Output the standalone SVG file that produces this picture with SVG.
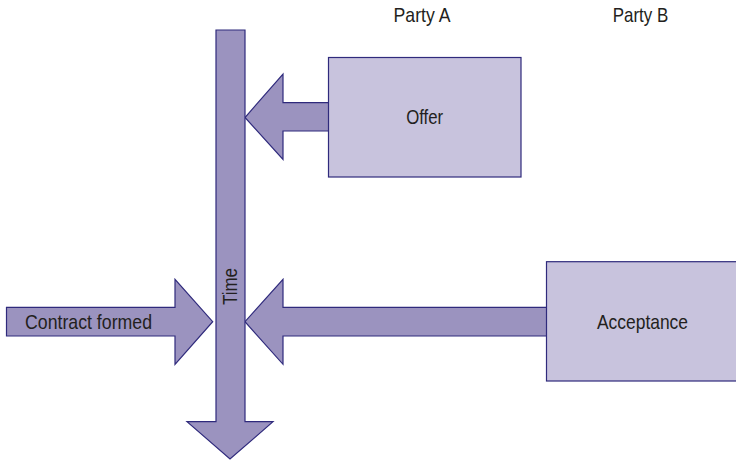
<svg xmlns="http://www.w3.org/2000/svg" width="736" height="461" viewBox="0 0 736 461">
  <style>
    .shaft { fill: #9b93bf; stroke: #2f2a7c; stroke-width: 1.2; stroke-linejoin: miter; }
    .box { fill: #c8c3dd; stroke: #2f2a7c; stroke-width: 1.2; }
    .lbl { font-family: "Liberation Sans", Arial, sans-serif; font-size: 21px; fill: #231f20; }
  </style>

  <!-- column headings -->
  <text class="lbl" x="422" y="21.5" text-anchor="middle" textLength="57" lengthAdjust="spacingAndGlyphs">Party A</text>
  <text class="lbl" x="640.5" y="21.5" text-anchor="middle" textLength="55.5" lengthAdjust="spacingAndGlyphs">Party B</text>

  <g id="connectors">
    <!-- offer pointing onto the timeline -->
    <polygon class="shaft" points="329,102.7 283,102.7 283,74 245,117.5 283,159.5 283,131 329,131"/>
    <!-- acceptance pointing onto the timeline -->
    <polygon class="shaft" points="547,307.3 283,307.3 283,279.3 245,321.7 283,364.3 283,336 547,336"/>
  </g>

  <g id="time">
    <polygon class="shaft" points="216,30 245,30 245,421.7 273,421.7 230,459 187,421.7 216,421.7"/>
    <text class="lbl" transform="translate(236.5,286.5) rotate(-90)" text-anchor="middle" textLength="37" lengthAdjust="spacingAndGlyphs">Time</text>
  </g>

  <g id="contract-formed">
    <polygon class="shaft" points="6.5,307.3 175,307.3 175,279.3 212.7,321.7 175,364.3 175,336 6.5,336"/>
    <text class="lbl" x="25" y="329" textLength="127" lengthAdjust="spacingAndGlyphs">Contract formed</text>
  </g>

  <g id="offer">
    <rect class="box" x="328.5" y="57.5" width="192.5" height="119.5"/>
    <text class="lbl" x="424.7" y="124" text-anchor="middle" textLength="37" lengthAdjust="spacingAndGlyphs">Offer</text>
  </g>

  <g id="acceptance">
    <rect class="box" x="546.5" y="261.7" width="192" height="119.3"/>
    <text class="lbl" x="642.5" y="329" text-anchor="middle" textLength="91" lengthAdjust="spacingAndGlyphs">Acceptance</text>
  </g>
</svg>
